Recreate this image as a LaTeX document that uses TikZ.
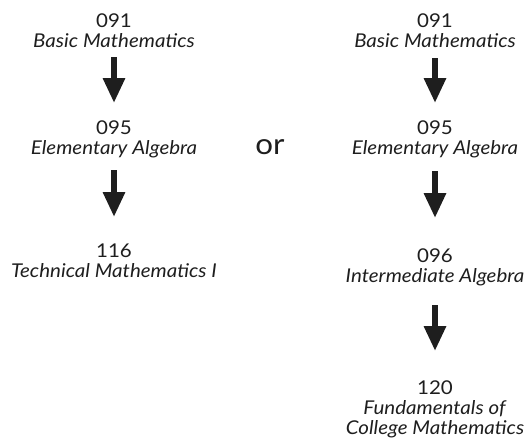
\documentclass[tikz,border=0pt]{standalone}
\usepackage{fontspec}
\setmainfont{Lato}[FakeStretch=1.08]
\usetikzlibrary{arrows.meta}
\definecolor{ink}{HTML}{1E1E1E}
\tikzset{
  course/.style={align=center, inner sep=0pt, text=ink, anchor=base,
    font=\fontsize{19}{20}\selectfont},
  flow/.style={draw=ink, line width=6pt,
    -{Triangle[length=25pt,width=21pt]}},
  ortext/.style={inner sep=0pt, text=ink, anchor=base,
    font=\fontsize{29}{31}\selectfont}
}
\begin{document}
\begin{tikzpicture}[x=1pt,y=1pt]
\useasboundingbox (0,0) rectangle (529,-437);
% left column (anchor = baseline of last line)
\node[course] (l1) at (114,-47) {091\\\textit{Basic Mathematics}};
\node[course] (l2) at (114,-154) {095\\\textit{Elementary Algebra}};
\node[course] (l3) at (114,-277) {116\\\textit{Technical Mathematics I}};
% right column
\node[course] (r1) at (435,-47) {091\\\textit{Basic Mathematics}};
\node[course] (r2) at (435,-154) {095\\\textit{Elementary Algebra}};
\node[course] (r3) at (435,-282) {096\\\textit{Intermediate Algebra}};
\node[course] (r4) at (435,-434) {120\\\textit{Fundamentals of}\\\textit{College Mathematics}};
% or
\node[ortext] (or) at (270,-154) {or};
% arrows
\draw[flow] ([yshift=-10pt]l1.base) -- ([yshift=51pt]l2.base);
\draw[flow] ([yshift=-16pt]l2.base) -- ([yshift=60pt]l3.base);
\draw[flow] ([yshift=-11pt]r1.base) -- ([yshift=51pt]r2.base);
\draw[flow] ([yshift=-17pt]r2.base) -- ([yshift=64pt]r3.base);
\draw[flow] ([yshift=-23pt]r3.base) -- ([yshift=83pt]r4.base);
\end{tikzpicture}
\end{document}
